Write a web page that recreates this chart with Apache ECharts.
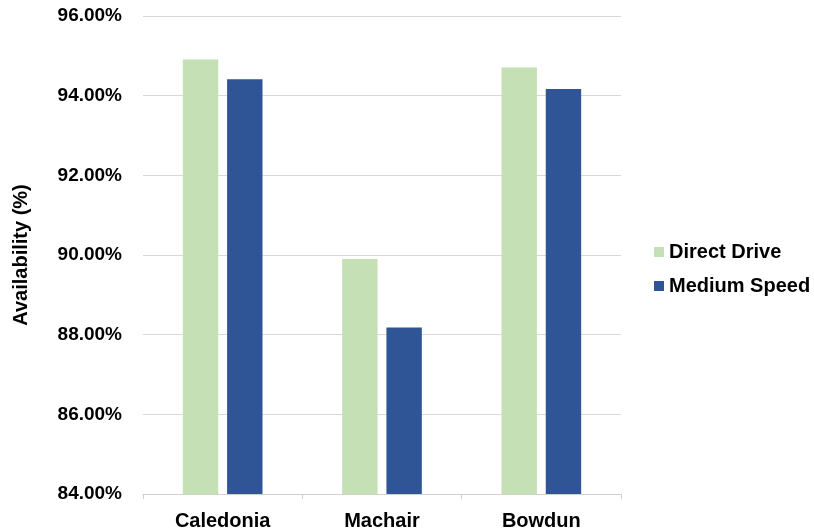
<!DOCTYPE html>
<html><head><meta charset="utf-8">
<script src="https://cdn.jsdelivr.net/npm/echarts@6/dist/echarts.min.js"></script>
<style>html,body{margin:0;padding:0;background:#fff}#c{width:814px;height:531px}</style>
</head><body><div id="c"></div>
<script>
const categories = ['Caledonia', 'Machair', 'Bowdun'];
const directDrive = [94.91, 89.90, 94.71];
const mediumSpeed = [94.41, 88.18, 94.17];
const seriesNames = ['Direct Drive', 'Medium Speed'];
const yTicks = {min: 84, max: 96, interval: 2};

const chart = echarts.init(document.getElementById('c'));
const font = 'Liberation Sans, Arial, sans-serif';
chart.setOption({
  animation: false,
  grid: {left: 143, right: 193, top: 16, bottom: 37},
  legend: {
    orient: 'vertical', left: 649, top: 237, itemGap: 14,
    itemWidth: 10, itemHeight: 10, icon: 'rect',
    textStyle: {fontFamily: font, fontWeight: 'bold', fontSize: 20, color: '#000'},
    data: seriesNames
  },
  xAxis: {
    type: 'category', data: categories,
    axisLine: {lineStyle: {color: '#d0d0d0', width: 1}},
    axisTick: {show: true, length: 5, lineStyle: {color: '#d0d0d0'}},
    axisLabel: {fontFamily: font, fontWeight: 'bold', fontSize: 20, color: '#000', margin: 17}
  },
  yAxis: {
    type: 'value', min: yTicks.min, max: yTicks.max, interval: yTicks.interval,
    name: 'Availability (%)', nameLocation: 'middle', nameGap: 112, nameRotate: 90,
    nameTextStyle: {fontFamily: font, fontWeight: 'bold', fontSize: 20, color: '#000'},
    axisLine: {show: false}, axisTick: {show: false},
    splitLine: {lineStyle: {color: '#d9d9d9', width: 1}},
    axisLabel: {fontFamily: font, fontWeight: 'bold', fontSize: 19, color: '#000', margin: 21,
      formatter: v => v.toFixed(2) + '%'}
  },
  series: [
    {name: seriesNames[0], type: 'bar', data: directDrive, barGap: '25%', barCategoryGap: '50%',
     itemStyle: {color: '#c5e0b4'}},
    {name: seriesNames[1], type: 'bar', data: mediumSpeed,
     itemStyle: {color: '#2f5597'}}
  ]
});
</script></body></html>
